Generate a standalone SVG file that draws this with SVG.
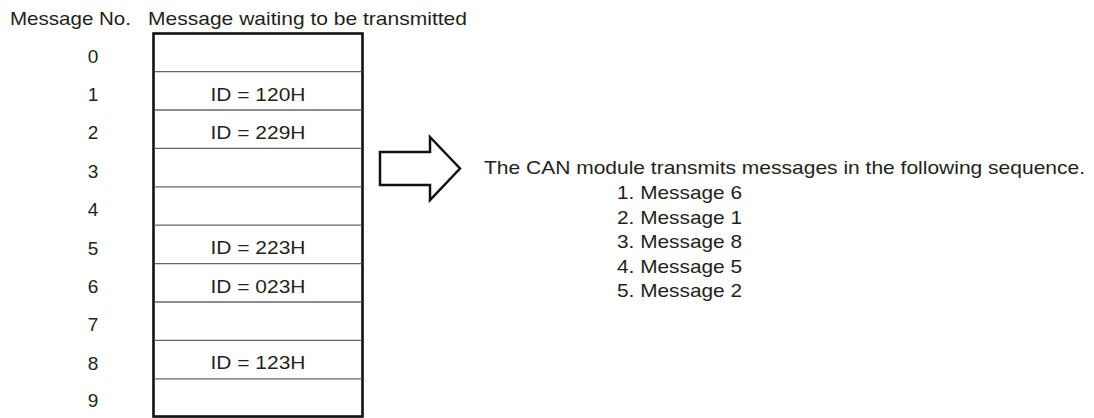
<svg xmlns="http://www.w3.org/2000/svg" width="1094" height="418" viewBox="0 0 1094 418">
<style>
text{font-family:"Liberation Sans",Arial,sans-serif;font-size:19px;fill:#231f20}
.c{text-anchor:middle}
.sep{stroke:#666;stroke-width:1.3}
.box{fill:#fff;stroke:#111;stroke-width:2.6}
</style>
<rect width="1094" height="418" fill="#fff"/>
<g id="headers">
<text x="10" y="25" textLength="121" lengthAdjust="spacingAndGlyphs">Message No.</text>
<text x="148" y="25" textLength="319" lengthAdjust="spacingAndGlyphs">Message waiting to be transmitted</text>
</g>
<g id="buffer">
<rect class="box" x="153.5" y="33.5" width="209" height="383"/>
<line class="sep" x1="154.5" y1="71.7" x2="361.5" y2="71.7"/>
<line class="sep" x1="154.5" y1="110" x2="361.5" y2="110"/>
<line class="sep" x1="154.5" y1="148.4" x2="361.5" y2="148.4"/>
<line class="sep" x1="154.5" y1="186.8" x2="361.5" y2="186.8"/>
<line class="sep" x1="154.5" y1="225.2" x2="361.5" y2="225.2"/>
<line class="sep" x1="154.5" y1="263.6" x2="361.5" y2="263.6"/>
<line class="sep" x1="154.5" y1="302" x2="361.5" y2="302"/>
<line class="sep" x1="154.5" y1="340.4" x2="361.5" y2="340.4"/>
<line class="sep" x1="154.5" y1="378.8" x2="361.5" y2="378.8"/>
<text class="c" x="258" y="100.5" textLength="95" lengthAdjust="spacingAndGlyphs">ID = 120H</text>
<text class="c" x="258" y="139" textLength="95" lengthAdjust="spacingAndGlyphs">ID = 229H</text>
<text class="c" x="258" y="254.2" textLength="95" lengthAdjust="spacingAndGlyphs">ID = 223H</text>
<text class="c" x="258" y="292.6" textLength="95" lengthAdjust="spacingAndGlyphs">ID = 023H</text>
<text class="c" x="258" y="369.4" textLength="95" lengthAdjust="spacingAndGlyphs">ID = 123H</text>
</g>
<g id="numbers">
<text class="c" x="93" y="62.5">0</text>
<text class="c" x="93" y="100.9">1</text>
<text class="c" x="93" y="139.3">2</text>
<text class="c" x="93" y="177.7">3</text>
<text class="c" x="93" y="216.1">4</text>
<text class="c" x="93" y="254.5">5</text>
<text class="c" x="93" y="292.9">6</text>
<text class="c" x="93" y="331.3">7</text>
<text class="c" x="93" y="369.7">8</text>
<text class="c" x="93" y="407">9</text>
</g>
<g id="connectors">
<polygon points="380,152 430,152 430,137 460,168.5 430,200 430,185 380,185" fill="#fff" stroke="#111" stroke-width="2.5" stroke-linejoin="miter"/>
</g>
<g id="result">
<text x="484" y="174" textLength="601" lengthAdjust="spacingAndGlyphs">The CAN module transmits messages in the following sequence.</text>
<text x="617" y="199" textLength="125" lengthAdjust="spacingAndGlyphs">1. Message 6</text>
<text x="617" y="223.5" textLength="125" lengthAdjust="spacingAndGlyphs">2. Message 1</text>
<text x="617" y="248" textLength="125" lengthAdjust="spacingAndGlyphs">3. Message 8</text>
<text x="617" y="272.5" textLength="125" lengthAdjust="spacingAndGlyphs">4. Message 5</text>
<text x="617" y="297" textLength="125" lengthAdjust="spacingAndGlyphs">5. Message 2</text>
</g>
</svg>
